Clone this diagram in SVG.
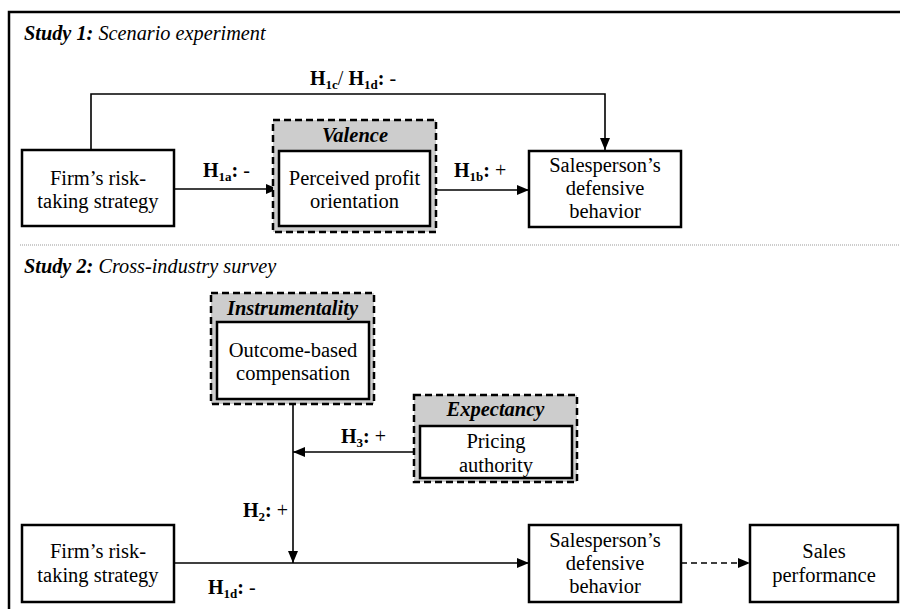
<svg xmlns="http://www.w3.org/2000/svg" width="900" height="609" viewBox="0 0 900 609">
<defs>
<marker id="arr" viewBox="0 0 12 10" refX="12" refY="5" markerWidth="12" markerHeight="10" markerUnits="userSpaceOnUse" orient="auto">
<path d="M0,0 L12,5 L0,10 Z" fill="#000"/>
</marker>
</defs>
<style>
text{font-family:"Liberation Serif","Times New Roman",serif;fill:#000}
.t{font-size:20.5px;text-anchor:middle}
.hd{font-size:20.3px;font-style:italic}
.hb{font-weight:bold}
.lab{font-size:20px}
.sub{font-size:13px;font-weight:bold}
.cat{font-size:20.5px;font-weight:bold;font-style:italic;text-anchor:middle}
.box{fill:#fff;stroke:#000;stroke-width:2.5}
.outer{fill:#cdcdcd;stroke:#000;stroke-width:2.5;stroke-dasharray:7,4}
.ln{fill:none;stroke:#000;stroke-width:1.6}
</style>
<rect width="900" height="609" fill="#fff"/>
<path d="M9,609 V12 H900" fill="none" stroke="#000" stroke-width="2.5"/>
<line x1="20" y1="245" x2="900" y2="245" stroke="#999" stroke-width="1.2" stroke-dasharray="1,1"/>

<text class="hd" x="24" y="40"><tspan class="hb">Study 1:</tspan> Scenario experiment</text>
<text class="hd" x="24" y="273"><tspan class="hb">Study 2:</tspan> Cross-industry survey</text>

<g id="connectors">
<path class="ln" d="M91,150 V94 H605 V150" marker-end="url(#arr)"/>
<line class="ln" x1="174" y1="189" x2="278" y2="189" marker-end="url(#arr)"/>
<line class="ln" x1="436" y1="190" x2="529" y2="190" marker-end="url(#arr)"/>
<line class="ln" x1="293" y1="404" x2="293" y2="563" marker-end="url(#arr)"/>
<line class="ln" x1="420" y1="452" x2="293" y2="452" marker-end="url(#arr)"/>
<line class="ln" x1="174" y1="563" x2="529" y2="563" marker-end="url(#arr)"/>
<line class="ln" x1="681" y1="563" x2="750" y2="563" stroke-dasharray="6,4" marker-end="url(#arr)"/>
<text class="lab" x="310" y="85"><tspan class="hb">H</tspan><tspan class="sub" dy="4">1c</tspan><tspan dy="-4">/ </tspan><tspan class="hb">H</tspan><tspan class="sub" dy="4">1d</tspan><tspan class="hb" dy="-4">:</tspan> -</text>
<text class="lab" x="203" y="177"><tspan class="hb">H</tspan><tspan class="sub" dy="4">1a</tspan><tspan class="hb" dy="-4">:</tspan> -</text>
<text class="lab" x="454" y="177"><tspan class="hb">H</tspan><tspan class="sub" dy="4">1b</tspan><tspan class="hb" dy="-4">:</tspan> +</text>
<text class="lab" x="341" y="443"><tspan class="hb">H</tspan><tspan class="sub" dy="4">3</tspan><tspan class="hb" dy="-4">:</tspan> +</text>
<text class="lab" x="243" y="517"><tspan class="hb">H</tspan><tspan class="sub" dy="4">2</tspan><tspan class="hb" dy="-4">:</tspan> +</text>
<text class="lab" x="208" y="594"><tspan class="hb">H</tspan><tspan class="sub" dy="4">1d</tspan><tspan class="hb" dy="-4">:</tspan> -</text>
</g>

<g id="s1-firm">
<rect class="box" x="22" y="150" width="152" height="76"/>
<text class="t" x="98" y="185">Firm’s risk-</text>
<text class="t" x="98" y="208">taking strategy</text>
</g>

<g id="s1-valence">
<rect class="outer" x="273" y="120" width="163" height="112"/>
<text class="cat" x="355" y="142">Valence</text>
<rect class="box" x="279" y="151" width="151" height="75"/>
<text class="t" x="354.5" y="185">Perceived profit</text>
<text class="t" x="354.5" y="208">orientation</text>
</g>

<g id="s1-sales">
<rect class="box" x="529" y="151" width="152" height="76"/>
<text class="t" x="605" y="172">Salesperson’s</text>
<text class="t" x="605" y="195">defensive</text>
<text class="t" x="605" y="218">behavior</text>
</g>

<g id="s2-instr">
<rect class="outer" x="211" y="293" width="163" height="111"/>
<text class="cat" x="292.5" y="315">Instrumentality</text>
<rect class="box" x="217" y="322" width="152" height="77"/>
<text class="t" x="293" y="357">Outcome-based</text>
<text class="t" x="293" y="380">compensation</text>
</g>

<g id="s2-expect">
<rect class="outer" x="414" y="395" width="163" height="87"/>
<text class="cat" x="495.5" y="416">Expectancy</text>
<rect class="box" x="420" y="426" width="152" height="52"/>
<text class="t" x="496" y="448">Pricing</text>
<text class="t" x="496" y="472">authority</text>
</g>

<g id="s2-firm">
<rect class="box" x="22" y="525" width="152" height="77"/>
<text class="t" x="98" y="558">Firm’s risk-</text>
<text class="t" x="98" y="582">taking strategy</text>
</g>

<g id="s2-sales">
<rect class="box" x="529" y="525" width="152" height="77"/>
<text class="t" x="605" y="547">Salesperson’s</text>
<text class="t" x="605" y="570">defensive</text>
<text class="t" x="605" y="593">behavior</text>
</g>

<g id="s2-perf">
<rect class="box" x="750" y="525" width="148" height="77"/>
<text class="t" x="824" y="558">Sales</text>
<text class="t" x="824" y="582">performance</text>
</g>
</svg>
